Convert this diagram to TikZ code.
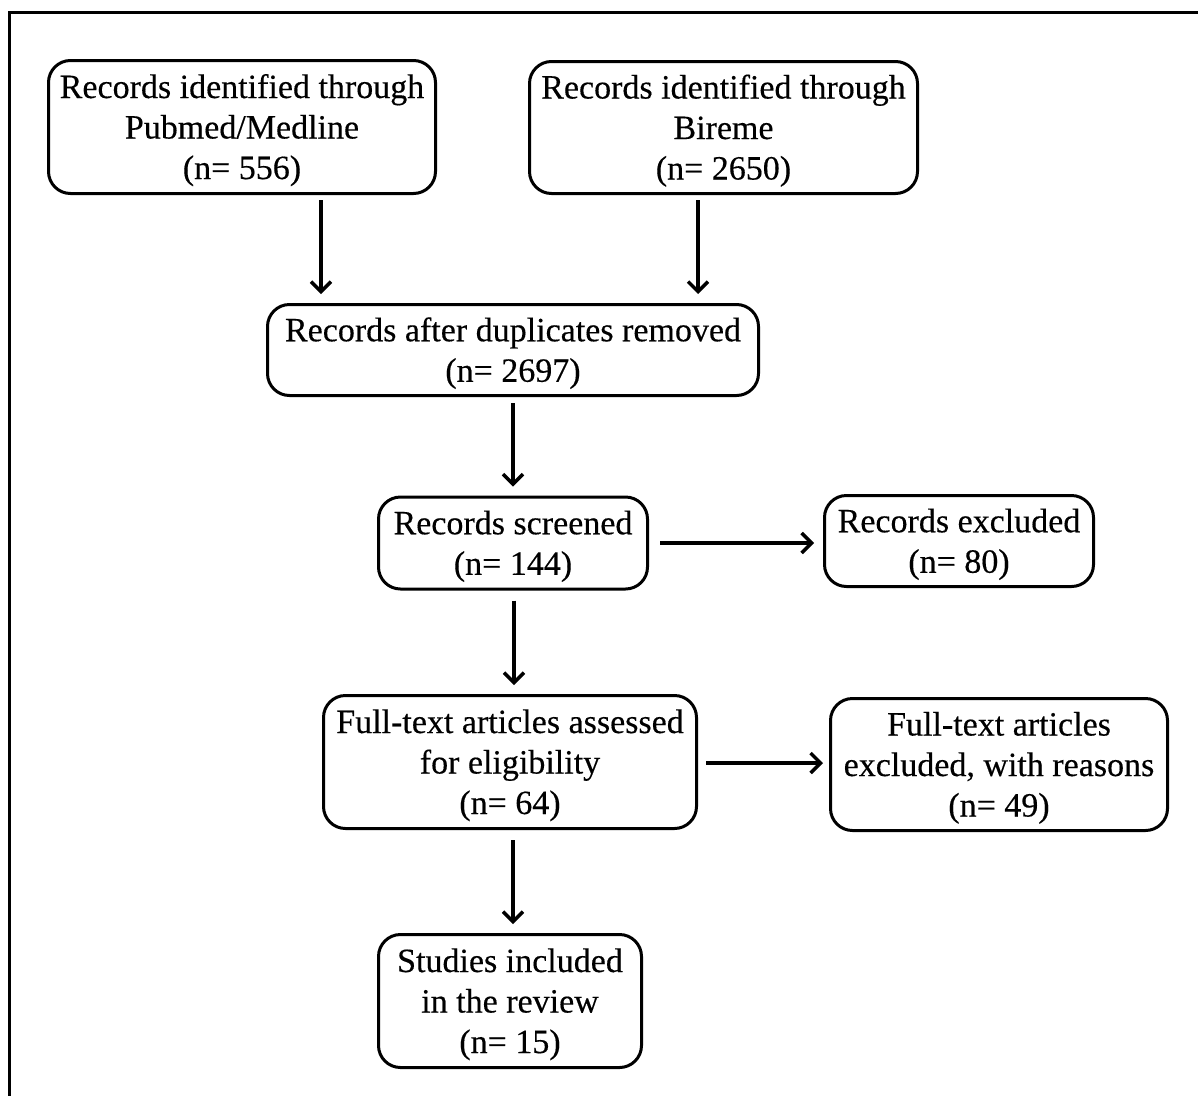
\documentclass[tikz,border=0pt]{standalone}
\usepackage{fontspec}
\setmainfont[FakeBold=0.35]{Liberation Serif}
\usetikzlibrary{arrows.meta}
\newcommand\topstrut{\rule{0pt}{31pt}}
\newcommand\botstrut{\rule[-8pt]{0pt}{8pt}}
\begin{document}
\begin{tikzpicture}[x=1pt,y=-1pt,
  box/.style={draw, line width=3pt, rounded corners=22pt, align=center,
    inner sep=0pt, font=\fontsize{34}{40.5}\selectfont},
  arr/.style={line width=3.4pt, -{Straight Barb[length=10pt,width=20pt,line width=3.4pt]}},
  frame/.style={line width=3pt}]
\useasboundingbox (0,0) rectangle (1198,1095);
\draw[frame] (9.5,1096) -- (9.5,12.5) -- (1199,12.5);

\node[box, minimum width=387pt, minimum height=133pt] (pub) at (242,127)
  {\topstrut Records identified through\\Pubmed/Medline\\(n= 556)\botstrut};
\node[box, minimum width=388pt, minimum height=132pt] (bir) at (723.5,127.5)
  {\topstrut Records identified through\\Bireme\\(n= 2650)\botstrut};
\node[box, minimum width=491pt, minimum height=91pt] (dup) at (513,350)
  {\topstrut Records after duplicates removed\\(n= 2697)\botstrut};
\node[box, minimum width=269pt, minimum height=92pt] (scr) at (513,543)
  {\topstrut Records screened\\(n= 144)\botstrut};
\node[box, minimum width=269pt, minimum height=91pt] (exc) at (959,541)
  {\topstrut Records excluded\\(n= 80)\botstrut};
\node[box, minimum width=373pt, minimum height=133pt] (full) at (510,762)
  {\topstrut Full-text articles assessed\\for eligibility\\(n= 64)\botstrut};
\node[box, minimum width=337pt, minimum height=132pt] (fexc) at (999,764.5)
  {\topstrut Full-text articles\\excluded, with reasons\\(n= 49)\botstrut};
\node[box, minimum width=263pt, minimum height=133pt] (inc) at (510,1001)
  {\topstrut Studies included\\in the review\\(n= 15)\botstrut};

\draw[arr, shorten <=5pt, shorten >=9pt] ([xshift=79pt]pub.south) -- ([xshift=79pt]pub.south |- dup.north);
\draw[arr, shorten <=5pt, shorten >=9pt] ([xshift=-25.5pt]bir.south) -- ([xshift=-25.5pt]bir.south |- dup.north);
\draw[arr, shorten <=6pt, shorten >=9pt] (dup.south) -- (dup.south |- scr.north);
\draw[arr, shorten <=10pt, shorten >=9pt] ([xshift=1pt]scr.south) -- ([xshift=1pt]scr.south |- full.north);
\draw[arr, shorten <=10pt, shorten >=9pt] ([xshift=3pt]full.south) -- ([xshift=3pt]full.south |- inc.north);
\draw[arr, shorten <=11pt, shorten >=9pt] (scr.east) -- (scr.east -| exc.west);
\draw[arr, shorten <=8pt, shorten >=6pt] ([yshift=-1pt]full.east) -- ([yshift=-1pt]full.east -| fexc.west);
\end{tikzpicture}
\end{document}
